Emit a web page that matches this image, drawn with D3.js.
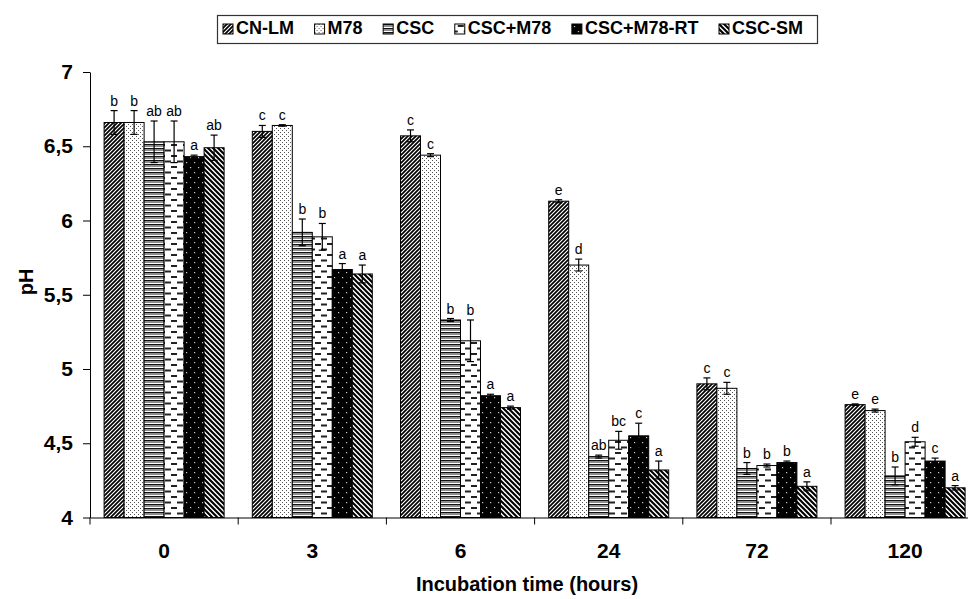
<!DOCTYPE html>
<html>
<head>
<meta charset="utf-8">
<script src="https://cdn.jsdelivr.net/npm/d3@7"></script>
<style>
  html, body { margin: 0; padding: 0; background: #fff; }
  svg { display: block; font-family: Arial, "Liberation Sans", sans-serif; }
</style>
</head>
<body>
<div id="chart"></div>
<script>
const WIDTH = 968;
const HEIGHT = 599;

// incubation times (hours)
const categories = ["0", "3", "6", "24", "72", "120"];
const seriesNames = ["CN-LM", "M78", "CSC", "CSC+M78", "CSC+M78-RT", "CSC-SM"];

// mean pH per series, one value per incubation time
const cnlmPH   = [6.66, 6.60, 6.57, 6.13, 4.90, 4.76];
const m78PH    = [6.66, 6.64, 6.44, 5.70, 4.87, 4.72];
const cscPH    = [6.53, 5.92, 5.33, 4.41, 4.33, 4.28];
const cscM78PH = [6.53, 5.89, 5.19, 4.52, 4.35, 4.51];
const cscRtPH  = [6.43, 5.67, 4.82, 4.55, 4.37, 4.38];
const cscSmPH  = [6.49, 5.64, 4.74, 4.32, 4.21, 4.20];

// error bar half-lengths
const cnlmErr   = [0.08, 0.04, 0.04, 0.01, 0.04, 0.005];
const m78Err    = [0.08, 0.005, 0.01, 0.04, 0.04, 0.01];
const cscErr    = [0.14, 0.09, 0.01, 0.01, 0.04, 0.06];
const cscM78Err = [0.14, 0.09, 0.14, 0.06, 0.01, 0.03];
const cscRtErr  = [0.01, 0.04, 0.01, 0.085, 0.01, 0.02];
const cscSmErr  = [0.085, 0.06, 0.01, 0.06, 0.03, 0.015];

// significance letters
const cnlmSig   = ["b", "c", "c", "e", "c", "e"];
const m78Sig    = ["b", "c", "c", "d", "c", "e"];
const cscSig    = ["ab", "b", "b", "ab", "b", "b"];
const cscM78Sig = ["ab", "b", "b", "bc", "b", "d"];
const cscRtSig  = ["a", "a", "a", "c", "b", "c"];
const cscSmSig  = ["ab", "a", "a", "a", "a", "a"];

const yTicks = [4, 4.5, 5, 5.5, 6, 6.5, 7];

const seriesValues = [cnlmPH, m78PH, cscPH, cscM78PH, cscRtPH, cscSmPH];
const seriesErrors = [cnlmErr, m78Err, cscErr, cscM78Err, cscRtErr, cscSmErr];
const seriesSig = [cnlmSig, m78Sig, cscSig, cscM78Sig, cscRtSig, cscSmSig];
const patternIds = ["pCnlm", "pM78", "pCsc", "pCscM78", "pCscRt", "pCscSm"];

const X0 = 90, STEP = 148.2, Y_TOP = 72, Y_BOT = 517.5;

const svg = d3.select("#chart").append("svg")
    .attr("width", WIDTH)
    .attr("height", HEIGHT);

svg.append("rect").attr("width", WIDTH).attr("height", HEIGHT).attr("fill", "#fff");

// fill patterns
const defs = svg.append("defs");
function pattern(id, w, h) {
    return defs.append("pattern").attr("id", id)
        .attr("patternUnits", "userSpaceOnUse")
        .attr("width", w).attr("height", h);
}
let p = pattern("pCnlm", 4, 4);
p.append("rect").attr("width", 4).attr("height", 4).attr("fill", "#fff");
p.append("path").attr("d", "M-1,1L1,-1M0,4L4,0M3,5L5,3").attr("stroke", "#000").attr("stroke-width", 1.7);

p = pattern("pM78", 4, 4);
p.append("rect").attr("width", 4).attr("height", 4).attr("fill", "#fff");
p.append("rect").attr("x", 0).attr("y", 0).attr("width", 1).attr("height", 1).attr("fill", "#555");
p.append("rect").attr("x", 2).attr("y", 2).attr("width", 1).attr("height", 1).attr("fill", "#555");

p = pattern("pCsc", 4, 4);
p.append("rect").attr("width", 4).attr("height", 4).attr("fill", "#8e8e8e");
p.append("rect").attr("y", 0).attr("width", 4).attr("height", 1).attr("fill", "#111");
p.append("rect").attr("y", 3).attr("width", 4).attr("height", 1).attr("fill", "#fff");

p = pattern("pCscM78", 12, 11);
p.append("rect").attr("width", 12).attr("height", 11).attr("fill", "#fff");
p.append("rect").attr("x", 3).attr("y", 1).attr("width", 6).attr("height", 2).attr("fill", "#222");
p.append("rect").attr("x", -3).attr("y", 6.5).attr("width", 6).attr("height", 2).attr("fill", "#222");
p.append("rect").attr("x", 9).attr("y", 6.5).attr("width", 6).attr("height", 2).attr("fill", "#222");

p = pattern("pCscRt", 8, 10);
p.append("rect").attr("width", 8).attr("height", 10).attr("fill", "#000");
p.append("rect").attr("x", 2).attr("y", 2).attr("width", 1.2).attr("height", 1.2).attr("fill", "#ccc");
p.append("rect").attr("x", 6).attr("y", 7).attr("width", 1.2).attr("height", 1.2).attr("fill", "#ccc");

p = pattern("pCscSm", 5, 5);
p.append("rect").attr("width", 5).attr("height", 5).attr("fill", "#fff");
p.append("path").attr("d", "M-1,4L1,6M0,0L5,5M4,-1L6,1").attr("stroke", "#000").attr("stroke-width", 2.1);

// scales
const x0 = d3.scaleBand().domain(categories).range([X0, X0 + STEP * categories.length]);
const groupW = 120;
const x1 = d3.scaleBand().domain(seriesNames)
    .range([(x0.bandwidth() - groupW) / 2, (x0.bandwidth() + groupW) / 2]);
const y = d3.scaleLinear().domain([4, 7]).range([Y_BOT, Y_TOP]);

// bars
const rows = [];
seriesNames.forEach((s, si) => {
    categories.forEach((c, ci) => {
        rows.push({ s, si, c, v: seriesValues[si][ci], e: seriesErrors[si][ci], sig: seriesSig[si][ci] });
    });
});

svg.append("g").selectAll("rect")
    .data(rows)
    .join("rect")
    .attr("x", d => x0(d.c) + x1(d.s))
    .attr("y", d => y(d.v))
    .attr("width", x1.bandwidth())
    .attr("height", d => y(4) - y(d.v))
    .attr("fill", d => "url(#" + patternIds[d.si] + ")")
    .attr("stroke", "#000")
    .attr("stroke-width", 1);

// error bars
const eb = svg.append("g").attr("stroke", "#000").attr("stroke-width", 1.2);
rows.forEach(d => {
    const cx = x0(d.c) + x1(d.s) + x1.bandwidth() / 2;
    eb.append("line").attr("x1", cx).attr("x2", cx).attr("y1", y(d.v + d.e)).attr("y2", y(d.v - d.e));
    eb.append("line").attr("x1", cx - 3.5).attr("x2", cx + 3.5).attr("y1", y(d.v + d.e)).attr("y2", y(d.v + d.e));
    eb.append("line").attr("x1", cx - 3.5).attr("x2", cx + 3.5).attr("y1", y(d.v - d.e)).attr("y2", y(d.v - d.e));
});

// letters
svg.append("g").selectAll("text")
    .data(rows)
    .join("text")
    .attr("x", d => x0(d.c) + x1(d.s) + x1.bandwidth() / 2)
    .attr("y", d => y(d.v + d.e) - 5)
    .attr("text-anchor", "middle")
    .style("font-size", "14px")
    .text(d => d.sig);

// Y AXIS
const yAxis = svg.append("g")
    .attr("transform", "translate(" + X0 + ",0)")
    .call(d3.axisLeft(y).tickValues(yTicks).tickSize(7).tickSizeOuter(0).tickPadding(10)
        .tickFormat(d => String(d).replace(".", ",")));
yAxis.selectAll("text").style("font-size", "21px").style("font-weight", "bold").attr("fill", "#000");
yAxis.selectAll("line, path").attr("stroke", "#000");

// X AXIS
const xAxis = svg.append("g")
    .attr("transform", "translate(0," + Y_BOT + ")")
    .call(d3.axisBottom(x0).tickSize(0).tickSizeOuter(0).tickPadding(26));
xAxis.selectAll("text").style("font-size", "21px").style("font-weight", "bold").attr("fill", "#000");
xAxis.select("path").attr("stroke", "#000");
const bounds = categories.map(c => x0(c)).concat([x0.range()[1]]);
xAxis.selectAll("line.bound")
    .data(bounds)
    .join("line")
    .attr("class", "bound")
    .attr("x1", d => d).attr("x2", d => d)
    .attr("y1", 0).attr("y2", 7)
    .attr("stroke", "#000");

// axis titles
svg.append("text")
    .attr("x", 527).attr("y", 591)
    .attr("text-anchor", "middle")
    .style("font-size", "20px").style("font-weight", "bold")
    .text("Incubation time (hours)");

svg.append("text")
    .attr("transform", "translate(33,282) rotate(-90)")
    .attr("text-anchor", "middle")
    .style("font-size", "20px").style("font-weight", "bold")
    .text("pH");

// legend
const LEG_X = 217, LEG_Y = 15, LEG_W = 600, LEG_H = 28;
const legend = svg.append("g");
legend.append("rect")
    .attr("x", LEG_X + 0.5).attr("y", LEG_Y + 0.5)
    .attr("width", LEG_W).attr("height", LEG_H)
    .attr("fill", "#fff").attr("stroke", "#333").attr("stroke-width", 1.2);

const items = legend.selectAll("g.item").data(seriesNames).join("g").attr("class", "item");
items.append("rect")
    .attr("width", 10).attr("height", 10)
    .attr("fill", (d, i) => "url(#" + patternIds[i] + ")")
    .attr("stroke", "#000").attr("stroke-width", 1);
items.append("text")
    .attr("x", 13).attr("y", 10)
    .style("font-size", "18px").style("font-weight", "bold")
    .text(d => d);

const textW = [];
items.select("text").each(function () { textW.push(this.getComputedTextLength()); });
const innerStart = LEG_X + 6, innerEnd = LEG_X + LEG_W - 14;
const used = textW.reduce((a, b) => a + b, 0) + seriesNames.length * 13;
const gap = (innerEnd - innerStart - used) / (seriesNames.length - 1);
let cursor = innerStart;
items.attr("transform", (d, i) => {
    const t = "translate(" + cursor + "," + (LEG_Y + 9) + ")";
    cursor += 13 + textW[i] + gap;
    return t;
});
</script>
</body>
</html>
